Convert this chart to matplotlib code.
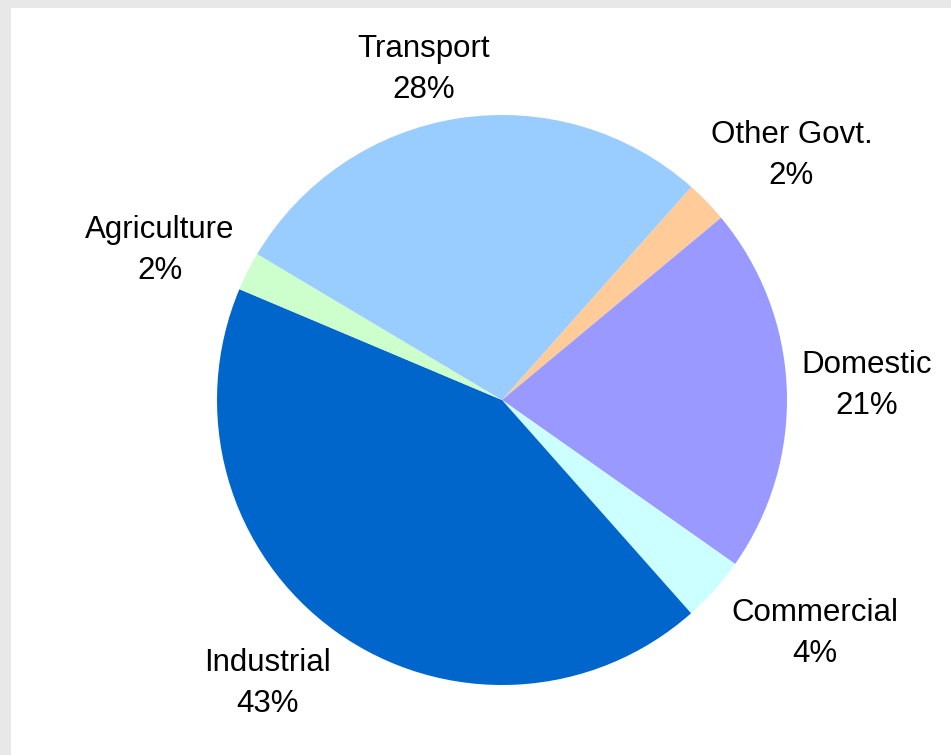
import matplotlib.pyplot as plt
import numpy as np

plt.rcParams['font.family'] = ['Liberation Sans', 'DejaVu Sans']

# shares, clockwise from Other Govt.
sectors = ["Other Govt.", "Domestic", "Commercial", "Industrial", "Agriculture", "Transport"]
shares = [2.4, 20.8, 3.7, 42.9, 2.2, 28.0]
colors = ["#FFCC99", "#9999FF", "#CCFFFF", "#0066CC", "#CCFFCC", "#99CCFF"]
# label placement (distance in radii, angle nudge in degrees)
label_dist = [1.33, 1.28, 1.37, 1.29, 1.31, 1.19]
label_nudge = [-3.85, 0, 5, -4, 3.2, 4.5]

fig = plt.figure(figsize=(9.51, 7.55), dpi=100)
fig.patch.set_facecolor("#E8E8E8")
# white plot area inside the grey frame
bg = fig.add_axes([11 / 951, 0, 1 - 11 / 951, 1 - 8 / 755])
bg.set_facecolor("white")
bg.set_xticks([])
bg.set_yticks([])
for s in bg.spines.values():
    s.set_visible(False)

ax = fig.add_axes([0, 0, 1, 1])
ax.patch.set_alpha(0)
wedges, _ = ax.pie(shares, colors=colors, startangle=48.4, counterclock=False,
                   wedgeprops=dict(linewidth=0))

total = sum(shares)
for w, name, v, d, n in zip(wedges, sectors, shares, label_dist, label_nudge):
    mid = np.deg2rad((w.theta1 + w.theta2) / 2 + n)
    ax.text(d * np.cos(mid), d * np.sin(mid), f"{name}\n{round(v / total * 100)}%",
            ha="center", va="center", fontsize=22.5, linespacing=1.48)

r = 285.0
cx, cy = 502.0, 755 - 400.0
ax.set_aspect("auto")
ax.set_xlim(-cx / r, (951 - cx) / r)
ax.set_ylim(-cy / r, (755 - cy) / r)
ax.axis("off")

plt.savefig("out.png", dpi=100)
plt.close()
